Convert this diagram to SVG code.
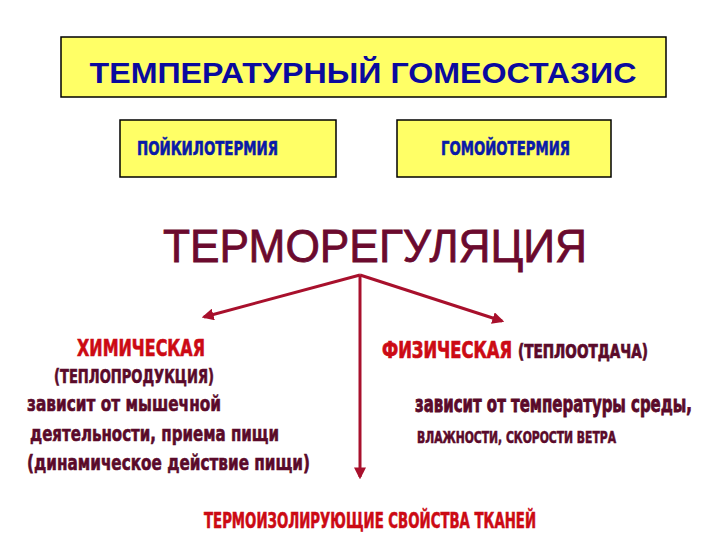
<svg xmlns="http://www.w3.org/2000/svg" width="720" height="540" viewBox="0 0 720 540">
<style>
.box{fill:#ffff66;stroke:#000;stroke-width:1.5}
.cond{font-family:"DejaVu Sans Condensed","Liberation Sans",sans-serif;font-weight:bold;stroke-width:0.6}
.blue{fill:#0a1aa8;stroke:#0a1aa8}
.red{fill:#cc0a14;stroke:#cc0a14}
.mar{fill:#5a0a2a;stroke:#5a0a2a}
.conn{stroke:#a8102c;stroke-width:3;fill:none}
</style>
<defs>
<marker id="ah" viewBox="0 0 10 10" refX="8" refY="5" markerWidth="4" markerHeight="4" orient="auto">
<path d="M0,0 L10,5 L0,10 z" fill="#a8102c"/>
</marker>
</defs>
<rect width="720" height="540" fill="#fff"/>
<g id="title">
<rect class="box" x="61" y="37" width="605" height="60"/>
<text x="363" y="83" text-anchor="middle" font-family="Liberation Sans,Arial,sans-serif" font-weight="bold" font-size="30" fill="#0a0a9e" textLength="547" lengthAdjust="spacingAndGlyphs">ТЕМПЕРАТУРНЫЙ ГОМЕОСТАЗИС</text>
</g>
<g id="poikilo">
<rect class="box" x="120" y="120" width="216" height="57"/>
<text class="cond blue" x="137" y="155" font-size="20" textLength="141" lengthAdjust="spacingAndGlyphs">ПОЙКИЛОТЕРМИЯ</text>
</g>
<g id="homoio">
<rect class="box" x="397" y="120" width="214" height="57"/>
<text class="cond blue" x="441" y="155" font-size="20" textLength="129" lengthAdjust="spacingAndGlyphs">ГОМОЙОТЕРМИЯ</text>
</g>
<g id="thermoreg">
<text x="375" y="262" text-anchor="middle" font-family="Liberation Sans,Arial,sans-serif" font-size="46" fill="#6b0a2e" stroke="#6b0a2e" stroke-width="0.8" textLength="424" lengthAdjust="spacingAndGlyphs">ТЕРМОРЕГУЛЯЦИЯ</text>
</g>
<g id="connectors">
<line class="conn" x1="360" y1="275" x2="204" y2="317" marker-end="url(#ah)"/>
<line class="conn" x1="360" y1="275" x2="502" y2="321" marker-end="url(#ah)"/>
<line class="conn" x1="360" y1="275" x2="360" y2="477" marker-end="url(#ah)"/>
</g>
<g id="chemical">
<text class="cond red" x="77" y="356" font-size="23" textLength="128" lengthAdjust="spacingAndGlyphs">ХИМИЧЕСКАЯ</text>
<text class="cond mar" x="54" y="383" font-size="19" textLength="160" lengthAdjust="spacingAndGlyphs">(ТЕПЛОПРОДУКЦИЯ)</text>
<text class="cond mar" x="27" y="411" font-size="22" textLength="194" lengthAdjust="spacingAndGlyphs">зависит от мышечной</text>
<text class="cond mar" x="30" y="441" font-size="22" textLength="249" lengthAdjust="spacingAndGlyphs">деятельности, приема пищи</text>
<text class="cond mar" x="27" y="470" font-size="22" textLength="283" lengthAdjust="spacingAndGlyphs">(динамическое действие пищи)</text>
</g>
<g id="physical">
<text class="cond red" transform="translate(382,358) scale(1,1.2)" x="0" y="0" font-size="19" textLength="130" lengthAdjust="spacingAndGlyphs">ФИЗИЧЕСКАЯ</text>
<text class="cond mar" transform="translate(518,358) scale(1,1.2)" x="0" y="0" font-size="15.5" textLength="130" lengthAdjust="spacingAndGlyphs">(ТЕПЛООТДАЧА)</text>
<text class="cond mar" transform="translate(415,412) scale(1,1.3)" x="0" y="0" font-size="17" textLength="277" lengthAdjust="spacingAndGlyphs">зависит от температуры среды,</text>
<text class="cond mar" x="417" y="443" font-size="16" textLength="199" lengthAdjust="spacingAndGlyphs">ВЛАЖНОСТИ,  СКОРОСТИ ВЕТРА</text>
</g>
<g id="insulating">
<text class="cond red" x="204" y="528" font-size="22" textLength="332" lengthAdjust="spacingAndGlyphs">ТЕРМОИЗОЛИРУЮЩИЕ СВОЙСТВА ТКАНЕЙ</text>
</g>
</svg>
